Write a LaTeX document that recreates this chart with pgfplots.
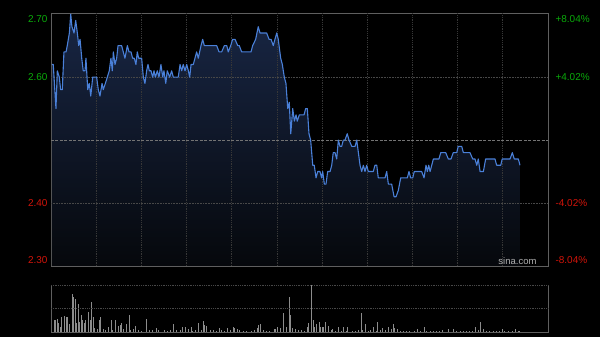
\documentclass[border=0pt]{standalone}
\usepackage{pgfplots}
\pgfplotsset{compat=1.18}
\usepackage{pgfplotstable}
\usepackage{fontspec}
\setmainfont{Liberation Sans}
\definecolor{bgc}{RGB}{0,0,0}
\definecolor{framec}{RGB}{95,95,95}
\definecolor{gridc}{RGB}{55,55,55}
\definecolor{hgridc}{RGB}{72,72,72}
\definecolor{prevc}{RGB}{115,115,115}
\definecolor{linec}{RGB}{74,128,216}
\definecolor{filltop}{RGB}{24,38,68}
\definecolor{fillbot}{RGB}{6,8,12}
\definecolor{upc}{RGB}{10,170,10}
\definecolor{dnc}{RGB}{210,20,10}
\definecolor{volc}{RGB}{140,140,140}
\definecolor{wmc}{RGB}{175,175,175}

\pgfplotstableread{
t p
0.5 2.62
1.5 2.62
3.3 2.55
4.2 2.61
5.5 2.60
6.4 2.58
7.5 2.58
8.6 2.64
10.0 2.64
10.8 2.65
12.2 2.67
13.1 2.70
13.9 2.68
15.3 2.67
16.4 2.69
17.5 2.67
18.4 2.65
19.3 2.66
20.4 2.63
21.4 2.61
22.6 2.61
23.2 2.63
24.4 2.58
25.4 2.59
26.4 2.57
27.7 2.60
29.2 2.60
30.3 2.60
31.4 2.58
32.5 2.57
33.9 2.59
34.7 2.58
36.1 2.59
37.4 2.60
38.7 2.61
39.8 2.63
40.7 2.61
41.4 2.64
42.5 2.62
43.6 2.63
44.5 2.65
46.9 2.65
48.0 2.64
49.1 2.63
50.7 2.65
51.8 2.64
53.1 2.64
54.2 2.63
55.3 2.63
56.4 2.62
57.3 2.64
58.2 2.63
60.2 2.63
61.3 2.60
62.4 2.59
63.5 2.61
64.4 2.62
65.3 2.61
66.4 2.61
67.5 2.60
68.4 2.61
69.3 2.60
70.6 2.61
71.7 2.60
73.0 2.62
74.2 2.60
75.0 2.61
76.2 2.59
77.2 2.61
78.8 2.60
80.1 2.61
81.2 2.60
84.5 2.60
85.7 2.62
86.8 2.61
87.8 2.62
89.0 2.61
90.1 2.62
91.2 2.61
92.1 2.60
93.0 2.62
94.5 2.62
95.6 2.63
96.7 2.64
97.8 2.63
99.6 2.65
100.7 2.66
101.8 2.65
110.0 2.65
111.6 2.64
113.3 2.64
115.1 2.65
116.7 2.65
117.7 2.64
119.3 2.65
120.6 2.66
122.2 2.66
124.0 2.65
125.0 2.65
126.6 2.64
132.8 2.64
133.9 2.65
135.9 2.66
137.6 2.68
138.8 2.67
143.2 2.67
144.8 2.66
146.1 2.66
147.6 2.65
148.7 2.66
149.9 2.67
150.9 2.66
152.5 2.63
153.6 2.62
154.9 2.60
156.0 2.59
157.2 2.55
158.2 2.56
159.2 2.51
160.5 2.55
161.6 2.53
162.7 2.54
163.5 2.53
164.9 2.54
168.0 2.54
169.1 2.55
170.2 2.55
171.3 2.51
172.4 2.50
173.8 2.46
174.8 2.46
176.0 2.44
177.1 2.45
178.6 2.45
179.7 2.44
180.4 2.45
181.5 2.43
182.6 2.43
183.7 2.45
185.3 2.45
186.4 2.46
187.4 2.48
188.6 2.48
189.7 2.47
190.8 2.50
191.9 2.49
193.0 2.49
194.1 2.50
195.2 2.50
196.7 2.51
197.9 2.50
199.7 2.49
201.9 2.49
203.0 2.50
204.1 2.48
205.2 2.46
206.3 2.45
207.4 2.46
208.5 2.45
209.6 2.46
210.7 2.45
214.0 2.45
215.1 2.46
216.3 2.46
217.3 2.44
221.8 2.44
222.9 2.45
224.0 2.43
226.2 2.43
227.8 2.41
229.1 2.41
230.6 2.42
232.2 2.44
236.6 2.44
237.7 2.45
238.8 2.44
240.2 2.44
241.2 2.45
246.1 2.45
247.7 2.44
249.0 2.46
249.9 2.45
250.8 2.46
251.7 2.45
252.8 2.46
253.9 2.47
257.6 2.47
258.8 2.48
262.1 2.48
263.8 2.47
265.6 2.47
267.1 2.48
269.4 2.48
270.4 2.49
272.7 2.49
273.8 2.48
278.2 2.48
280.0 2.47
281.5 2.47
282.7 2.46
283.7 2.47
284.9 2.45
287.1 2.45
288.6 2.47
294.8 2.47
295.9 2.46
298.6 2.46
299.6 2.47
304.8 2.47
306.3 2.48
307.6 2.47
310.3 2.47
311.4 2.46
}\pricetable

\pgfplotstableread{
t v
0 26
2 12
3 12
4 12.7
5 8.7
6 5
7 15
9 16
10 15
11 15
12 8
14 38
15 35
16 32.7
17 9
18 28
19 10
20 17
21 12
22 9
23 12
25 20
26 12
27 30
28 14.7
29 4
31 3
32 12
33 15
35 3
36 2
38 5
40 12
41 2
43 12
45 6
46 7
47 8.7
48 3
50 8
52 16.7
53 2
55 3
56 6
58 2
60 1
63 12.7
65 2
67 2
70 4.3
71 1.7
75 1.7
77 1.3
79 1.7
81 8
83 2
86 2
87 4.7
89 4.7
91 3
93 5.3
94 1.3
96 2
98 9
100 2
101 11
102 7
103 6
106 2
108 2
110 1.3
112 4
113 2
115 1
117 4
119 2
121 5.3
122 4
124 3
125 2
128 0.7
130 0.7
133 1
135 2
137 4
138 7
139 8
141 2
143 1
145 1
148 3
149 3
150 5
152 4
154 19.3
156 5.3
158 35
159 17
160 4
162 3
164 2
166 2
168 1
170 5.3
171 8.7
173 47
174 12
175 5
176 8
178 9.7
179 5
180 5
181 5
182 9.7
184 6
186 2
187 3
189 1.3
191 5
193 1.3
194 5.3
196 1
197 5
200 1
202 1.3
204 2
206 18.7
207 2
209 8
211 1
212 2
214 5.3
216 1.3
217 9.7
219 2
220 4
222 2
224 5.3
226 3
227 8
228 4
230 3
232 1
234 1
236 0.7
238 1
241 1
243 3
245 1
248 5.3
249 1.3
252 1
254 1
256 1.3
258 1
260 2
264 3
267 3
269 1
272 1
274 1.3
276 1
278 1.3
280 1
282 5.3
284 2
285 10.3
287 3
289 1
291 1
294 1
296 1
298 1
300 3
301 1
304 1
306 1.3
308 3
310 1.3
311 1
}\voltable

\begin{document}
\begin{tikzpicture}[x=1pt,y=1pt]
\fill[bgc] (0,0) rectangle (600,337);
% main price axis
\begin{axis}[
  at={(51pt,71pt)}, anchor=south west,
  scale only axis, width=497pt, height=252.5pt,
  xmin=0, xmax=330, ymin=2.30, ymax=2.701,
  axis line style={framec, line width=0.8pt},
  ticks=none,
  clip mode=individual,
]
\addplot[draw=none, top color=filltop, bottom color=fillbot] table[x=t,y=p]{\pricetable} \closedcycle;
\pgfplotsinvokeforeach{30,60,90,120,150,180,210,240,270,300}{
  \draw[gridc, densely dotted, line width=0.8pt] (axis cs:#1,2.30) -- (axis cs:#1,2.701);
}
\draw[hgridc, densely dotted, line width=0.6pt] (axis cs:0,2.60) -- (axis cs:330,2.60);
\draw[hgridc, densely dotted, line width=0.6pt] (axis cs:0,2.40) -- (axis cs:330,2.40);
\addplot[prevc, dash pattern=on 3pt off 1.5pt, line width=0.7pt, forget plot] coordinates {(0,2.50) (330,2.50)};
\addplot[linec, line width=1.1pt, line join=round] table[x=t,y=p]{\pricetable};
\node[anchor=east, text=upc, font=\fontsize{10}{12}\selectfont] at (axis cs:0,2.692) {2.70\hspace{3pt}};
\node[anchor=east, text=upc, font=\fontsize{10}{12}\selectfont] at (axis cs:0,2.60) {2.60\hspace{3pt}};
\node[anchor=east, text=dnc, font=\fontsize{10}{12}\selectfont] at (axis cs:0,2.40) {2.40\hspace{3pt}};
\node[anchor=east, text=dnc, font=\fontsize{10}{12}\selectfont] at (axis cs:0,2.3095) {2.30\hspace{3pt}};
\node[anchor=west, text=upc, font=\fontsize{10}{12}\selectfont] at (axis cs:330,2.692) {\hspace{4pt}+8.04\%};
\node[anchor=west, text=upc, font=\fontsize{10}{12}\selectfont] at (axis cs:330,2.60) {\hspace{4pt}+4.02\%};
\node[anchor=west, text=dnc, font=\fontsize{10}{12}\selectfont] at (axis cs:330,2.40) {\hspace{4pt}-4.02\%};
\node[anchor=west, text=dnc, font=\fontsize{10}{12}\selectfont] at (axis cs:330,2.3095) {\hspace{4pt}-8.04\%};
\node[anchor=east, text=wmc, font=\fontsize{9.5}{11}\selectfont, inner sep=0pt] at (axis cs:322.5,2.3085) {sina.com};
\end{axis}
% volume axis
\begin{axis}[
  at={(51pt,5pt)}, anchor=south west,
  scale only axis, width=497pt, height=47pt,
  xmin=0, xmax=330, ymin=0, ymax=47,
  axis x line=none, axis y line=none,
  ticks=none,
  clip=false,
]
\addplot[volc, ycomb, line width=0.7pt] table[x=t,y=v]{\voltable};
\end{axis}
\draw[framec, line width=0.8pt] (51,52) -- (51,5) -- (548,5) -- (548,52);
\draw[hgridc, densely dotted, line width=0.8pt] (51,52) -- (548,52);
\draw[hgridc, densely dotted, line width=0.8pt] (51,28.5) -- (548,28.5);
\pgfresetboundingbox
\path (0,0) rectangle (600,337);
\end{tikzpicture}
\end{document}
